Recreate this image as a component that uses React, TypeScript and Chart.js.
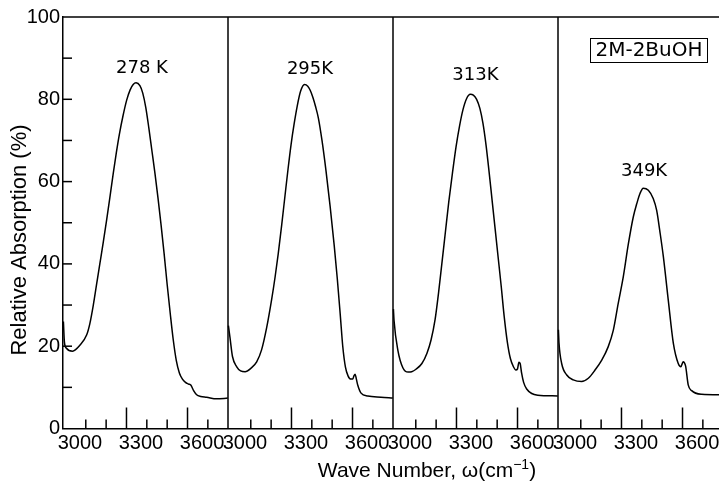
import React, { useEffect, useRef } from 'react';
import { Chart, registerables } from 'chart.js';

Chart.register(...registerables);

// ---- axis / panel definitions ----
const X_MIN = 2988;
const PANEL_SPAN = 811;
const PANEL_COUNT = 4;
const X_LABEL_TICKS = [3000, 3300, 3600];
const X_MAJOR_MARKS = [3300, 3600];
const X_MINOR_MARKS = [3100, 3200, 3400, 3500, 3700];
const Y_MIN = 0;
const Y_MAX = 100;
const Y_STEP = 20;
const Y_TICK_MARKS = [10, 20, 30, 40, 50, 60, 70, 80, 90];

// ---- series (wave number cm^-1, relative absorption %) ----
const TEMPERATURES = ['278 K', '295K', '313K', '349K'];

const WAVE_278 = [2990, 2995, 3005, 3035, 3072, 3104, 3120, 3137, 3153, 3169, 3186, 3202, 3218, 3235, 3250, 3265, 3283, 3301, 3318, 3333, 3347, 3366, 3380, 3395, 3410, 3425, 3440, 3455, 3470, 3485, 3500, 3515, 3530, 3545, 3560, 3575, 3590, 3605, 3617, 3630, 3645, 3665, 3694, 3743, 3798];
const ABS_278 = [26, 21, 19.5, 18.8, 20.3, 22.7, 25.5, 30, 35, 40, 45.3, 50.5, 56, 62, 67, 71.5, 76, 79.8, 82.3, 83.6, 84, 83.3, 81.5, 78, 73, 67.5, 62, 56, 49.5, 42.5, 35, 28, 21.5, 16.5, 13.5, 12, 11.2, 10.8, 10.5, 9.2, 8.2, 7.8, 7.6, 7.2, 7.4];

const WAVE_295 = [2990, 2998, 3010, 3031, 3050, 3072, 3100, 3129, 3153, 3178, 3203, 3220, 3235, 3252, 3268, 3283, 3298, 3313, 3328, 3345, 3364, 3380, 3392, 3405, 3418, 3432, 3450, 3470, 3490, 3510, 3525, 3540, 3552, 3565, 3578, 3592, 3601, 3607, 3613, 3619, 3626, 3642, 3675, 3740, 3798];
const ABS_295 = [25, 22, 17.5, 15.0, 14.0, 13.8, 14.6, 16.2, 19.1, 24.5, 31.5, 37, 42.5, 49.5, 56.5, 63, 69, 74, 78.3, 82, 83.6, 83.2, 82.2, 80.5, 78.3, 75.5, 70, 62.5, 54, 44.5, 36.5, 27.5, 20, 15, 12.8, 12, 12, 12.8, 13.2, 12, 10.5, 8.6, 7.9, 7.6, 7.4];

const WAVE_313 = [2990, 2993, 3012, 3037, 3062, 3080, 3101, 3130, 3155, 3175, 3195, 3212, 3228, 3245, 3262, 3280, 3298, 3315, 3332, 3350, 3368, 3383, 3399, 3415, 3430, 3445, 3460, 3475, 3490, 3505, 3520, 3535, 3550, 3565, 3580, 3592, 3600, 3607, 3613, 3620, 3630, 3645, 3670, 3700, 3798];
const ABS_313 = [29, 26.3, 19, 14.7, 13.7, 13.8, 14.4, 15.8, 18.3, 21.5, 26.5, 33, 40, 47.5, 55, 62, 68.5, 73.5, 77.5, 80.2, 81.2, 81, 80, 77.8, 74.2, 69, 62.5, 55.5, 48.5, 41.5, 34.5, 27, 21, 17, 15, 14.2, 14.5, 16.1, 15.8, 13.5, 11.2, 9.6, 8.5, 8.1, 7.9];

const WAVE_349 = [2990, 2993, 3006, 3031, 3063, 3104, 3137, 3170, 3203, 3235, 3260, 3284, 3309, 3334, 3358, 3375, 3391, 3407, 3432, 3456, 3473, 3489, 3506, 3530, 3555, 3579, 3592, 3603, 3615, 3628, 3645, 3694, 3776, 3798];
const ABS_349 = [24, 20.7, 15.8, 13.0, 11.8, 11.4, 12.2, 14.2, 16.6, 19.9, 23.9, 30.4, 36.9, 44.9, 51.4, 54.6, 57.1, 58.4, 57.9, 55.9, 53.0, 47.8, 41.7, 31.2, 20.7, 15.8, 15.0, 16.2, 15.2, 10.6, 9.2, 8.3, 8.2, 8.2];

const WAVES = [WAVE_278, WAVE_295, WAVE_313, WAVE_349];
const ABSORPTIONS = [ABS_278, ABS_295, ABS_313, ABS_349];

// temperature label anchors (wave number, absorption) inside each panel
const LABEL_WAVE = [3376, 3391, 3393, 3411];
const LABEL_ABS = [87.6, 87.3, 85.8, 62.5];

const SAMPLE_NAME = '2M-2BuOH';
const X_TITLE = 'Wave Number, ω(cm';
const X_TITLE_SUP = '−1';
const Y_TITLE = 'Relative Absorption (%)';

const TICK_FONT = '"Liberation Sans", Arial, sans-serif';
const LABEL_FONT = '"DejaVu Sans", sans-serif';

const CANVAS_W = 730;
const CANVAS_H = 483;

const decor = {
  id: 'decor',
  afterDraw(chart: any) {
    const { ctx, chartArea: a, scales } = chart;
    const x = scales.x;
    const y = scales.y;
    const line = (x1: number, y1: number, x2: number, y2: number) => {
      ctx.beginPath();
      ctx.moveTo(x1, y1);
      ctx.lineTo(x2, y2);
      ctx.stroke();
    };
    ctx.save();
    ctx.strokeStyle = '#000';
    ctx.lineWidth = 1.5;
    // top frame
    line(a.left, a.top, a.right, a.top);
    // panel dividers
    for (let i = 1; i < PANEL_COUNT; i++) {
      const px = x.getPixelForValue(X_MIN + i * PANEL_SPAN);
      line(px, a.top, px, a.bottom);
    }
    // inward y tick marks
    Y_TICK_MARKS.forEach((v) => {
      const py = y.getPixelForValue(v);
      line(a.left, py, a.left + 9, py);
    });
    // inward x tick marks
    for (let i = 0; i < PANEL_COUNT; i++) {
      X_MINOR_MARKS.forEach((w) => {
        const px = x.getPixelForValue(w + i * PANEL_SPAN);
        line(px, a.bottom, px, a.bottom - 9);
      });
      X_MAJOR_MARKS.forEach((w) => {
        const px = x.getPixelForValue(w + i * PANEL_SPAN);
        line(px, a.bottom, px, a.bottom - 21);
      });
    }
    ctx.fillStyle = '#000';
    // temperature labels
    ctx.font = `18px ${LABEL_FONT}`;
    ctx.textAlign = 'center';
    ctx.textBaseline = 'middle';
    TEMPERATURES.forEach((t, i) => {
      const px = x.getPixelForValue(LABEL_WAVE[i] + i * PANEL_SPAN);
      const py = y.getPixelForValue(LABEL_ABS[i]);
      ctx.fillText(t, px, py);
    });
    // sample box
    ctx.font = `20px ${LABEL_FONT}`;
    ctx.lineWidth = 1;
    ctx.strokeRect(590.5, 38.5, 117, 24);
    ctx.fillText(SAMPLE_NAME, 649, 51);
    // x title
    ctx.textAlign = 'left';
    ctx.textBaseline = 'alphabetic';
    ctx.font = `21px ${TICK_FONT}`;
    const mainW = ctx.measureText(X_TITLE).width;
    ctx.font = `14px ${TICK_FONT}`;
    const supW = ctx.measureText(X_TITLE_SUP).width;
    ctx.font = `21px ${TICK_FONT}`;
    const closeW = ctx.measureText(')').width;
    const total = mainW + supW + closeW;
    let tx = 427 - total / 2;
    const base = 477;
    ctx.fillText(X_TITLE, tx, base);
    tx += mainW;
    ctx.font = `14px ${TICK_FONT}`;
    ctx.fillText(X_TITLE_SUP, tx, base - 8);
    tx += supW;
    ctx.font = `21px ${TICK_FONT}`;
    ctx.fillText(')', tx, base);
    // y title
    ctx.save();
    ctx.translate(20, 240);
    ctx.rotate(-Math.PI / 2);
    ctx.textAlign = 'center';
    ctx.textBaseline = 'middle';
    ctx.font = `22px ${TICK_FONT}`;
    ctx.fillText(Y_TITLE, 0, 0);
    ctx.restore();
    ctx.restore();
  },
};

export default function App() {
  const ref = useRef<HTMLCanvasElement>(null);
  useEffect(() => {
    if (!ref.current) return;
    const datasets = WAVES.map((ws, i) => ({
      label: TEMPERATURES[i],
      data: ws.map((w, j) => ({ x: w + i * PANEL_SPAN, y: ABSORPTIONS[i][j] })),
      borderColor: '#000',
      borderWidth: 1.5,
      pointRadius: 0,
      fill: false,
      cubicInterpolationMode: 'monotone' as const,
    }));
    const chart = new Chart(ref.current, {
      type: 'line',
      data: { datasets },
      options: {
        responsive: false,
        animation: false,
        devicePixelRatio: 1,
        layout: { padding: { top: 17, right: CANVAS_W - 723, left: 0, bottom: 0 } },
        plugins: { legend: { display: false }, tooltip: { enabled: false } },
        scales: {
          x: {
            type: 'linear',
            min: X_MIN,
            max: X_MIN + PANEL_COUNT * PANEL_SPAN,
            afterBuildTicks: (s: any) => {
              const t: { value: number }[] = [];
              for (let i = 0; i < PANEL_COUNT; i++) {
                X_LABEL_TICKS.forEach((w) => t.push({ value: w + i * PANEL_SPAN }));
              }
              s.ticks = t;
            },
            afterFit: (s: any) => {
              s.height = CANVAS_H - 428.5;
            },
            grid: { display: false, drawTicks: false },
            border: { display: true, color: '#000', width: 1.5 },
            ticks: {
              autoSkip: false,
              maxRotation: 0,
              labelOffset: 14.5,
              padding: 3,
              color: '#000',
              font: { family: TICK_FONT, size: 20 },
              callback: (value: any) => {
                const v = Number(value);
                const p = Math.floor((v - X_MIN) / PANEL_SPAN);
                return String(Math.round(v - p * PANEL_SPAN));
              },
            },
          },
          y: {
            min: Y_MIN,
            max: Y_MAX,
            afterFit: (s: any) => {
              s.width = 63;
            },
            grid: { display: false, drawTicks: false },
            border: { display: true, color: '#000', width: 1.5 },
            ticks: {
              stepSize: Y_STEP,
              padding: 3,
              color: '#000',
              font: { family: TICK_FONT, size: 20 },
            },
          },
        },
      },
      plugins: [decor],
    });
    return () => chart.destroy();
  }, []);
  return (
    <div
      style={{
        position: 'fixed',
        left: 0,
        top: 0,
        width: 719,
        height: 483,
        overflow: 'hidden',
        background: '#fff',
      }}
    >
      <canvas
        ref={ref}
        width={CANVAS_W}
        height={CANVAS_H}
        style={{ display: 'block', width: CANVAS_W, height: CANVAS_H }}
      />
    </div>
  );
}
